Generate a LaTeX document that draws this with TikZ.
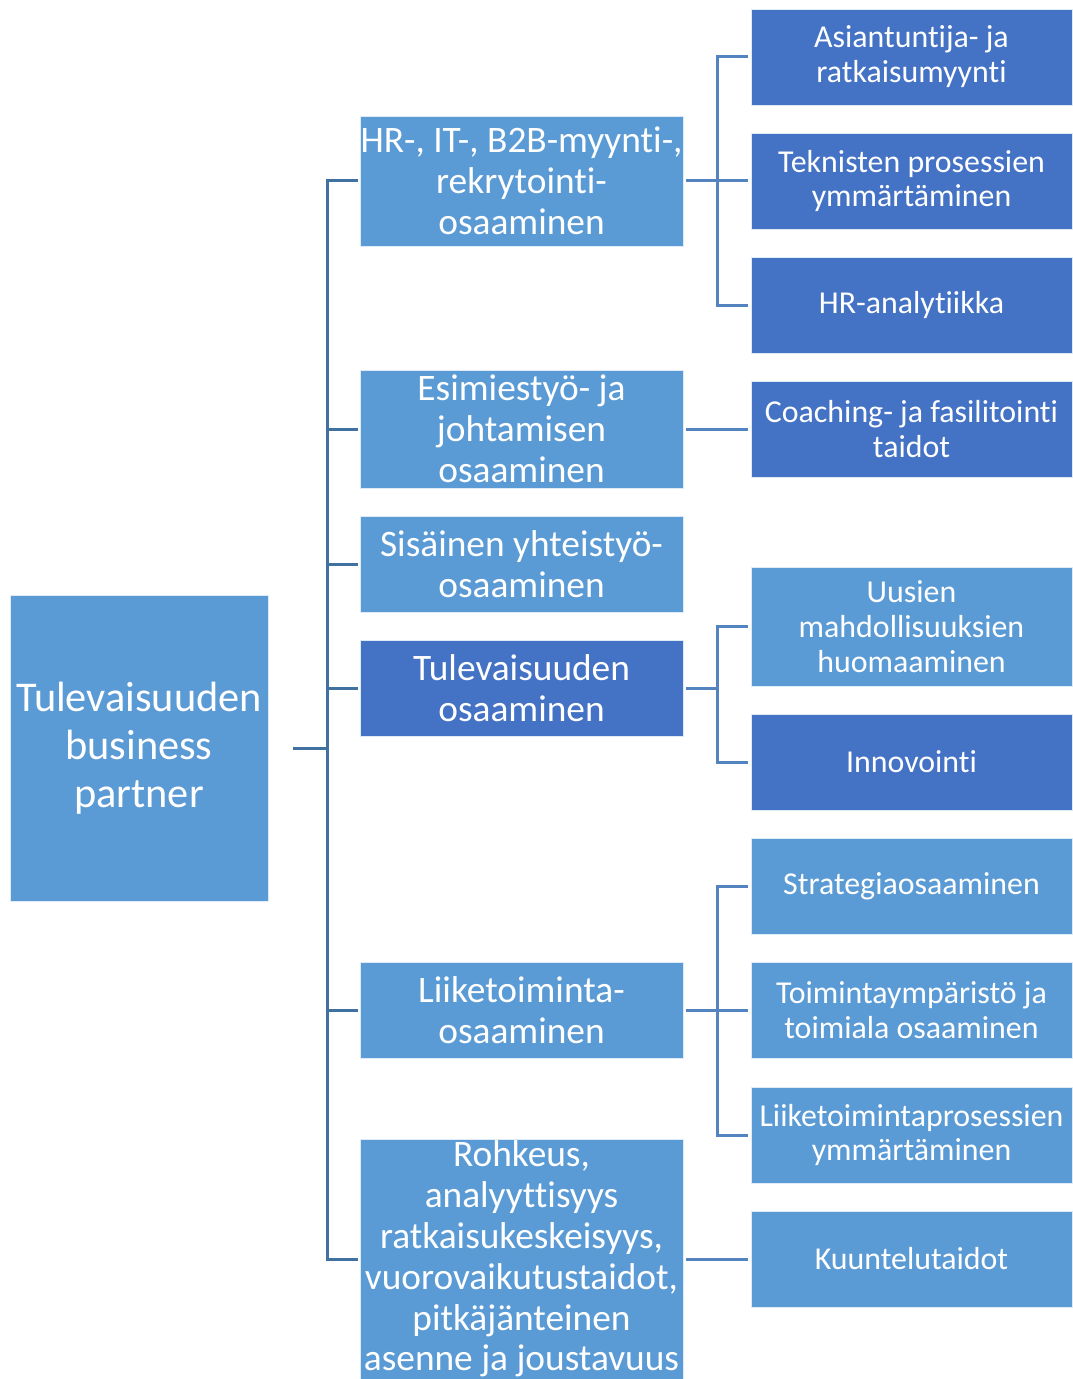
\documentclass[tikz,border=0pt]{standalone}
\usepackage{fontspec}
\setmainfont[RawFeature={-liga}]{Carlito}
\usetikzlibrary{positioning}
\definecolor{boxlight}{RGB}{91,155,213}
\definecolor{boxdeep}{RGB}{68,114,196}
\definecolor{linkleft}{RGB}{65,113,160}
\definecolor{linkright}{RGB}{84,132,192}

\begin{document}
\begin{tikzpicture}[
  x=1bp, y=-1bp,
  box/.style={draw=white!80!boxlight, line width=0.8bp, text=white,
    align=center, inner sep=0pt, outer sep=0pt, fill=boxlight},
  deep/.style={fill=boxdeep},
  rootbox/.style={box, minimum width=258bp, minimum height=306bp,
    font=\fontsize{42.5}{48}\selectfont},
  midbox/.style={box, minimum width=323bp, minimum height=96bp,
    font=\fontsize{37.5}{41}\selectfont},
  leafbox/.style={box, minimum width=321bp, minimum height=96bp,
    font=\fontsize{32}{35}\selectfont},
  link/.style={draw=linkleft, line width=3bp},
  sublink/.style={draw=linkright, line width=3bp},
]
\useasboundingbox (0,0) rectangle (1072,1379);

%% root
\node[rootbox] (root) at (139,748) {Tulevaisuuden\\business\\partner};

%% middle level
\node[midbox, minimum height=130bp] (hr) at (521.5,181)
  {HR-, IT-, B2B-myynti-,\\rekrytointi-\\osaaminen};
\node[midbox, minimum height=118bp] (esi) at (521.5,429)
  {Esimiestyö- ja\\johtamisen\\osaaminen};
\node[midbox] (sis) at (521.5,564) {Sisäinen yhteistyö-\\osaaminen};
\node[midbox, deep] (tul) at (521.5,688) {Tulevaisuuden\\osaaminen};
\node[midbox] (liik) at (521.5,1010.5) {Liiketoiminta-\\osaaminen};
\node[midbox, minimum height=240bp] (roh) at (521.5,1259)
  {Rohkeus,\\analyyttisyys\\ratkaisukeskeisyys,\\vuorovaikutustaidot,\\pitkäjänteinen\\asenne ja joustavuus};

%% leaves
\node[leafbox, deep] (asi) at (911.5,57) {Asiantuntija- ja\\ratkaisumyynti};
\node[leafbox, deep] (tek) at (911.5,181) {Teknisten prosessien\\ymmärtäminen};
\node[leafbox, deep] (hra) at (911.5,305) {HR-analytiikka};
\node[leafbox, deep] (coa) at (911.5,429) {Coaching- ja fasilitointi\\taidot};
\node[leafbox, minimum height=119bp] (uus) at (911.5,626.5)
  {Uusien\\mahdollisuuksien\\huomaaminen};
\node[leafbox, deep] (inn) at (911.5,762) {Innovointi};
\node[leafbox] (str) at (911.5,886) {Strategiaosaaminen};
\node[leafbox] (toi) at (911.5,1010.5) {Toimintaympäristö ja\\toimiala osaaminen};
\node[leafbox] (lpr) at (911.5,1135) {Liiketoimintaprosessien\\ymmärtäminen};
\node[leafbox] (kuu) at (911.5,1259) {Kuuntelutaidot};

%% root to middle level
\draw[link] ([xshift=25bp]root.east) -- ([xshift=59bp]root.east);
\draw[link] ([xshift=-2bp]hr.west) -| ([xshift=-33bp]roh.west)
  -- ([xshift=-2bp]roh.west);
\foreach \m in {esi,sis,tul,liik}
  \draw[link] ([xshift=-2bp]\m.west) -- ([xshift=-33bp]\m.west);

%% middle level to leaves
\draw[sublink] ([xshift=-3bp]asi.west) -| ([xshift=-34bp]hra.west)
  -- ([xshift=-3bp]hra.west);
\draw[sublink] ([xshift=3bp]hr.east) -- ([xshift=-3bp]tek.west);
\draw[sublink] ([xshift=3bp]esi.east) -- ([xshift=-3bp]coa.west);
\draw[sublink] ([xshift=-3bp]uus.west) -| ([xshift=-34bp]inn.west)
  -- ([xshift=-3bp]inn.west);
\draw[sublink] ([xshift=3bp]tul.east) -- ([xshift=34bp]tul.east);
\draw[sublink] ([xshift=-3bp]str.west) -| ([xshift=-34bp]lpr.west)
  -- ([xshift=-3bp]lpr.west);
\draw[sublink] ([xshift=3bp]liik.east) -- ([xshift=-3bp]toi.west);
\draw[sublink] ([xshift=3bp]roh.east) -- ([xshift=-3bp]kuu.west);

\end{tikzpicture}
\end{document}
